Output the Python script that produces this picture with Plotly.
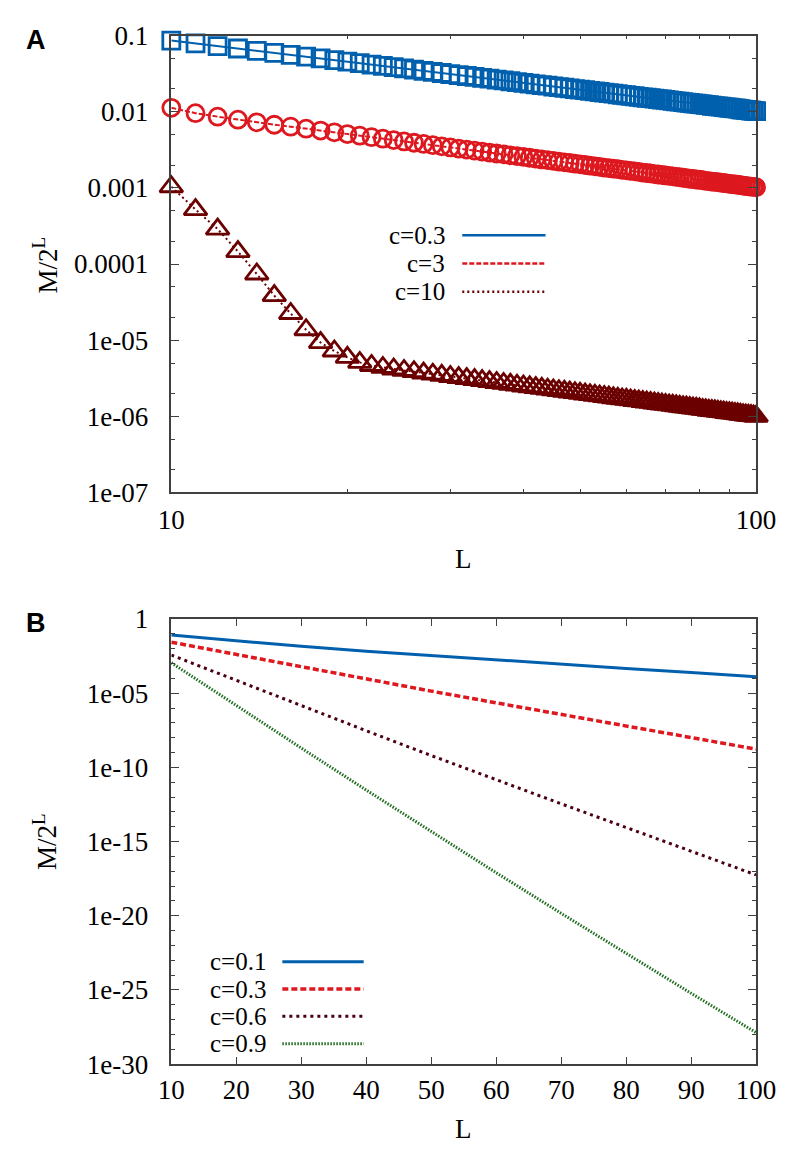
import plotly.graph_objects as go

# panel A: M/2^L against L for every integer L = 10..100
L_top = list(range(10, 101))

c03_top = [0.0863, 0.0791, 0.0730, 0.0678, 0.0633, 0.0594, 0.0560, 0.0529, 0.0502, 0.0478, 0.0456,
           0.0436, 0.0417, 0.0401, 0.0385, 0.0371, 0.0358, 0.0345, 0.0334, 0.0323, 0.0313,
           0.0304, 0.0295, 0.0287, 0.0279, 0.0272, 0.0265, 0.0258, 0.0252, 0.0246, 0.0240,
           0.0235, 0.0229, 0.0224, 0.0220, 0.0215, 0.0211, 0.0207, 0.0203, 0.0199, 0.0195,
           0.0192, 0.0188, 0.0185, 0.0182, 0.0179, 0.0176, 0.0173, 0.0170, 0.0167, 0.0165,
           0.0162, 0.0160, 0.0157, 0.0155, 0.0153, 0.0151, 0.0149, 0.0147, 0.0145, 0.0143,
           0.0141, 0.0139, 0.0137, 0.0136, 0.0134, 0.0132, 0.0131, 0.0129, 0.0128, 0.0126,
           0.0125, 0.0123, 0.0122, 0.0120, 0.0119, 0.0118, 0.0117, 0.0115, 0.0114, 0.0113,
           0.0112, 0.0111, 0.0110, 0.0108, 0.0107, 0.0106, 0.0105, 0.0104, 0.0103, 0.0102]

# values in units of 1e-3
c3_top = [v * 1e-3 for v in (
    11.28, 9.59, 8.63, 7.88, 7.27, 6.76, 6.38, 6.00, 5.67, 5.37, 5.10,
    4.86, 4.64, 4.43, 4.25, 4.08, 3.92, 3.78, 3.64, 3.52, 3.40,
    3.29, 3.19, 3.09, 3.00, 2.91, 2.83, 2.76, 2.68, 2.62, 2.55,
    2.49, 2.43, 2.37, 2.32, 2.27, 2.22, 2.17, 2.13, 2.08, 2.04,
    2.00, 1.96, 1.92, 1.89, 1.85, 1.82, 1.79, 1.76, 1.73, 1.70,
    1.67, 1.65, 1.62, 1.59, 1.57, 1.55, 1.52, 1.50, 1.48, 1.46,
    1.44, 1.42, 1.40, 1.38, 1.36, 1.34, 1.32, 1.31, 1.29, 1.28,
    1.26, 1.24, 1.23, 1.21, 1.20, 1.19, 1.17, 1.16, 1.15, 1.13,
    1.12, 1.11, 1.10, 1.09, 1.07, 1.06, 1.05, 1.04, 1.03, 1.02)]

# values in units of 1e-6
c10_top = [v * 1e-6 for v in (
    1035, 520, 288, 146, 74, 38.5, 22.4, 13.7, 9.3, 7.2, 5.95,
    5.1, 4.65, 4.38, 4.18, 4.0, 3.85, 3.70, 3.57, 3.45, 3.33,
    3.23, 3.13, 3.03, 2.94, 2.86, 2.78, 2.70, 2.63, 2.56, 2.50,
    2.44, 2.38, 2.33, 2.27, 2.22, 2.17, 2.13, 2.08, 2.04, 2.00,
    1.96, 1.92, 1.89, 1.85, 1.82, 1.79, 1.75, 1.72, 1.69, 1.67,
    1.64, 1.61, 1.59, 1.56, 1.54, 1.52, 1.49, 1.47, 1.45, 1.43,
    1.41, 1.39, 1.37, 1.35, 1.33, 1.32, 1.30, 1.28, 1.27, 1.25,
    1.23, 1.22, 1.20, 1.19, 1.18, 1.16, 1.15, 1.14, 1.12, 1.11,
    1.10, 1.09, 1.08, 1.06, 1.05, 1.04, 1.03, 1.02, 1.01, 1.00)]

# panel B
L_bot = [10, 20, 30, 40, 50, 60, 70, 80, 90, 100]
c01_bot = [8.3e-2, 3.3e-2, 1.45e-2, 6.8e-3, 3.4e-3, 1.74e-3, 8.9e-4, 4.7e-4, 2.45e-4, 1.26e-4]
c03_bot = [2.75e-2, 3.98e-3, 5.9e-4, 8.9e-5, 1.38e-5, 2.24e-6, 3.7e-7, 6.2e-8, 1.02e-8, 1.7e-9]
c06_bot = [3.7e-3, 7.2e-5, 1.45e-6, 2.95e-8, 6.3e-10, 1.45e-11, 3.5e-13, 8.9e-15, 2.24e-16, 5.6e-18]
c09_bot = [1.12e-3, 1.45e-6, 2.0e-9, 2.95e-12, 4.7e-15, 7.9e-18, 1.45e-20, 2.75e-23, 5.9e-26, 1.32e-28]

top_names = ['c=0.3', 'c=3', 'c=10']
bot_names = ['c=0.1', 'c=0.3', 'c=0.6', 'c=0.9']
top_yticks = ['1e-07', '1e-06', '1e-05', '0.0001', '0.001', '0.01', '0.1']
bot_yticks = ['1e-30', '1e-25', '1e-20', '1e-15', '1e-10', '1e-05', '1']

BLUE = '#0060ad'
RED = '#dd181f'
DARKRED = '#6b0000'
MAROON = '#4a0010'
GREEN = '#1f6e1f'
SERIF = 'Liberation Serif'
FS = 27
W, H = 793, 1149


def px(x):
    return x / W


def py(y):
    return 1 - y / H


fig = go.Figure()

# ---- panel A
fig.add_trace(go.Scatter(x=L_top, y=c03_top, mode='lines+markers', cliponaxis=False,
                         line=dict(color=BLUE, width=2),
                         marker=dict(symbol='square-open', size=17, color=BLUE, line=dict(width=2.8, color=BLUE)),
                         xaxis='x', yaxis='y'))
fig.add_trace(go.Scatter(x=L_top, y=c3_top, mode='lines+markers', cliponaxis=False,
                         line=dict(color=RED, width=2, dash='5px,2px'),
                         marker=dict(symbol='circle-open', size=17, color=RED, line=dict(width=2.8, color=RED)),
                         xaxis='x', yaxis='y'))
fig.add_trace(go.Scatter(x=L_top, y=c10_top, mode='lines+markers', cliponaxis=False,
                         line=dict(color=DARKRED, width=2, dash='2px,3px'),
                         marker=dict(symbol='triangle-up-open', size=20, color=DARKRED,
                                     line=dict(width=2.8, color=DARKRED)),
                         xaxis='x', yaxis='y'))

# ---- panel B
bot_styles = [(c01_bot, BLUE, 3, 'solid'), (c03_bot, RED, 3.5, '6px,3px'),
              (c06_bot, MAROON, 3, '3px,4px'), (c09_bot, GREEN, 3, '1.5px,1.5px')]
for vals, col, w, dash in bot_styles:
    fig.add_trace(go.Scatter(x=L_bot, y=vals, mode='lines', line=dict(color=col, width=w, dash=dash),
                             xaxis='x2', yaxis='y2'))

axis_style = dict(showline=True, linecolor='#404040', linewidth=1.5, mirror='ticks', ticks='inside',
                  tickcolor='#404040', tickwidth=1.2, ticklen=8, showgrid=False, zeroline=False,
                  tickfont=dict(family=SERIF, size=FS, color='black'))

x_dom = [px(156), px(767)]

fig.update_layout(
    width=W, height=H, margin=dict(l=0, r=0, t=0, b=0),
    paper_bgcolor='white', plot_bgcolor='white', showlegend=False,
    xaxis=dict(axis_style, type='log', range=[1, 2], domain=x_dom, anchor='y',
               tickvals=[10, 100], ticktext=['10', '100'], ticklabelstandoff=2,
               minor=dict(tickvals=[20, 30, 40, 50, 60, 70, 80, 90], ticks='inside', ticklen=4,
                          tickcolor='#404040', showgrid=False)),
    yaxis=dict(axis_style, type='log', range=[-7, -1], domain=[py(482), py(13)], anchor='x',
               tickvals=[1e-7, 1e-6, 1e-5, 1e-4, 1e-3, 1e-2, 1e-1], ticktext=top_yticks,
               ticklabelstandoff=16,
               minor=dict(tickvals=[m * 10.0 ** e for e in range(-7, -1) for m in (2, 5)],
                          ticks='inside', ticklen=4, tickcolor='#404040', showgrid=False)),
    xaxis2=dict(axis_style, range=[10, 100], domain=x_dom, anchor='y2',
                tickvals=L_bot, ticklen=7, ticklabelstandoff=1),
    yaxis2=dict(axis_style, type='log', range=[-30, 0], domain=[py(1069), py(612)], anchor='x2',
                tickvals=[1e-30, 1e-25, 1e-20, 1e-15, 1e-10, 1e-5, 1], ticktext=bot_yticks,
                ticklabelstandoff=16,
                minor=dict(tickvals=[10.0 ** e for e in range(-29, 0) if e % 5 != 0],
                           ticks='inside', ticklen=4, tickcolor='#404040', showgrid=False)),
)

ann = []
txt = dict(family=SERIF, size=FS, color='black')
leg_txt = dict(family=SERIF, size=25, color='black')
# panel letters
ann.append(dict(text='<b>A</b>', x=px(2), y=py(17), xanchor='left', yanchor='middle',
                font=dict(family='Liberation Sans', size=27, color='black')))
ann.append(dict(text='<b>B</b>', x=px(2), y=py(616), xanchor='left', yanchor='middle',
                font=dict(family='Liberation Sans', size=27, color='black')))
# axis titles
ann.append(dict(text='L', x=px(461), y=py(550), xanchor='center', yanchor='middle', font=txt))
ann.append(dict(text='L', x=px(461), y=py(1136), xanchor='center', yanchor='middle', font=txt))
ann.append(dict(text='M/2<sup>L</sup>', x=px(24), y=py(248), textangle=-90, xanchor='center',
                yanchor='middle', font=txt))
ann.append(dict(text='M/2<sup>L</sup>', x=px(24), y=py(840), textangle=-90, xanchor='center',
                yanchor='middle', font=txt))

shapes = []
# legend, panel A
top_rows = [218, 247, 276]
top_leg = [(BLUE, 'solid'), (RED, '5px,2px'), (DARKRED, '2px,3px')]
for name, row, (col, dash) in zip(top_names, top_rows, top_leg):
    ann.append(dict(text=name, x=px(443), y=py(row), xanchor='right', yanchor='middle',
                    font=leg_txt, borderpad=0))
    shapes.append(dict(type='line', xref='paper', yref='paper', x0=px(460), x1=px(547),
                       y0=py(row), y1=py(row), line=dict(color=col, width=2.5, dash=dash)))

# legend, panel B
bot_rows = [964, 992, 1020, 1048]
for name, row, (vals, col, w, dash) in zip(bot_names, bot_rows, bot_styles):
    ann.append(dict(text=name, x=px(256), y=py(row), xanchor='right', yanchor='middle',
                    font=leg_txt, borderpad=0))
    shapes.append(dict(type='line', xref='paper', yref='paper', x0=px(272), x1=px(357),
                       y0=py(row), y1=py(row), line=dict(color=col, width=w, dash=dash)))

for a in ann:
    a.update(xref='paper', yref='paper', showarrow=False)
fig.update_layout(annotations=ann, shapes=shapes)

fig.write_html('out.html')
